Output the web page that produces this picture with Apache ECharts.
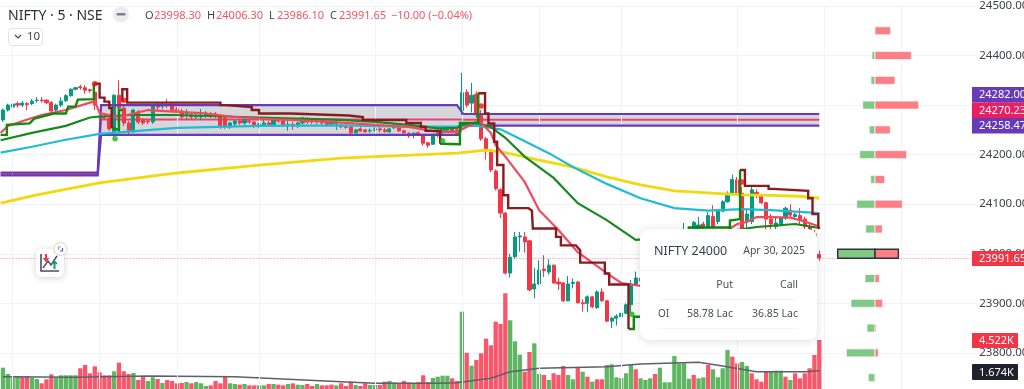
<!DOCTYPE html>
<html><head><meta charset="utf-8">
<style>html,body{margin:0;padding:0;background:#fff;overflow:hidden}#c{width:1024px;height:389px}</style>
<script src="https://cdn.jsdelivr.net/npm/echarts@6/dist/echarts.min.js"></script>
</head><body><div id="c"></div>
<script>
const FONT = '"Noto Sans", Roboto, sans-serif';
// OHLC as [open, close, low, high], one row per 5-minute candle
const candles = [
[24270,24290,24266,24293],[24290,24300,24287,24303],[24296,24302,24292,24310],[24303,24300,24295,24307],[24300,24304,24296,24308],
[24303,24301,24290,24306],[24303,24308,24300,24312],[24309,24310,24305,24316],[24310,24309,24305,24316],[24310,24305,24302,24312],
[24305,24288,24284,24308],[24290,24300,24288,24303],[24300,24308,24296,24316],[24309,24319,24306,24322],[24319,24332,24317,24334],
[24332,24335,24330,24337],[24337,24335,24331,24341],[24335,24330,24323,24340],[24331,24329,24325,24333],[24326,24300,24290,24338],
[24278,24274,24270,24282],[24276,24274,24270,24280],[24274,24252,24248,24278],[24245,24320,24236,24322],[24320,24294,24245,24350],
[24294,24264,24258,24298],[24264,24246,24238,24268],[24246,24290,24244,24292],[24286,24266,24262,24290],[24270,24264,24260,24274],
[24268,24266,24262,24272],[24266,24298,24262,24300],[24298,24296,24290,24304],[24298,24302,24292,24306],[24301,24299,24294,24312],
[24300,24290,24286,24304],[24292,24288,24284,24296],[24288,24276,24272,24292],[24283,24284,24272,24292],[24280,24276,24272,24284],
[24276,24278,24272,24282],[24276,24280,24270,24292],[24278,24284,24274,24288],[24282,24278,24274,24286],[24282,24278,24274,24286],
[24278,24256,24252,24282],[24274,24256,24252,24276],[24256,24264,24252,24266],[24262,24268,24258,24270],[24268,24264,24260,24272],
[24264,24270,24260,24272],[24268,24266,24262,24270],[24266,24258,24254,24268],[24258,24262,24254,24264],[24260,24264,24256,24275],
[24264,24260,24256,24268],[24260,24274,24256,24276],[24272,24268,24264,24274],[24268,24260,24256,24270],[24260,24261,24248,24268],
[24261,24258,24250,24266],[24258,24264,24254,24266],[24264,24274,24260,24276],[24272,24266,24262,24276],[24270,24266,24262,24272],
[24266,24268,24262,24272],[24270,24264,24260,24272],[24266,24260,24256,24268],[24262,24264,24256,24268],[24262,24263,24250,24270],
[24260,24256,24253,24262],[24258,24255,24252,24261],[24256,24244,24242,24258],[24244,24250,24243,24252],[24252,24248,24246,24256],
[24250,24246,24245,24252],[24248,24249,24244,24253],[24250,24252,24246,24256],[24252,24250,24245,24256],[24250,24247,24244,24254],
[24246,24252,24244,24254],[24254,24257,24252,24262],[24255,24248,24246,24258],[24248,24244,24242,24250],[24243,24238,24234,24245],
[24241,24243,24233,24246],[24244,24241,24238,24247],[24240,24223,24218,24242],[24224,24219,24214,24226],[24221,24241,24220,24242],
[24243,24248,24235,24254],[24246,24251,24240,24256],[24248,24251,24244,24255],[24253,24246,24244,24255],[24250,24243,24240,24252],
[24289,24325,24280,24365],[24326,24300,24295,24332],[24304,24320,24285,24345],[24322,24280,24274,24328],[24280,24232,24228,24290],
[24232,24208,24190,24236],[24209,24169,24165,24212],[24167,24131,24128,24170],[24129,24082,24072,24132],[24082,23961,23958,24084],
[23961,23993,23952,24000],[23994,24034,23990,24044],[24034,24036,24004,24044],[24034,24024,24002,24044],[24026,23927,23925,24028],
[23929,23939,23910,23971],[23939,23967,23937,23987],[23969,23966,23953,23997],[23963,23977,23958,23989],[23977,23941,23940,23978],
[23943,23939,23927,23952],[23941,23905,23903,23943],[23905,23939,23904,23955],[23940,23942,23930,23950],[23943,23901,23900,23945],
[23901,23899,23883,23908],[23900,23913,23882,23916],[23913,23893,23890,23915],[23891,23923,23889,23926],[23923,23905,23903,23930],
[23905,23864,23862,23907],[23864,23870,23850,23873],[23870,23874,23855,23878],[23873,23880,23862,23882],[23880,23897,23878,23900],
[23897,23939,23880,23947],[23939,23951,23935,23964],[23951,23945,23940,23958],[23945,23955,23942,23960],[23955,23965,23950,23970],
[23965,23975,23960,23980],[23975,23962,23958,23980],[23962,23972,23960,23976],[23972,23985,23970,23990],[23985,24005,23980,24010],
[24005,24020,24000,24025],[24020,24042,24015,24062],[24042,24030,24025,24048],[24051,24063,24045,24066],[24050,24058,24045,24074],
[24060,24052,24045,24065],[24053,24077,24045,24084],[24075,24053,24048,24098],[24065,24086,24060,24088],[24086,24105,24084,24108],
[24105,24122,24103,24126],[24122,24150,24118,24160],[24149,24122,24118,24155],[24122,24052,24045,24135],[24065,24080,24052,24088],
[24065,24129,24060,24135],[24124,24118,24112,24130],[24118,24103,24100,24121],[24103,24070,24037,24105],[24070,24060,24045,24080],
[24055,24062,24040,24075],[24061,24072,24055,24075],[24072,24092,24068,24095],[24088,24078,24072,24100],[24075,24079,24068,24082],
[24077,24068,24060,24092],[24070,24055,24048,24075],[24055,24040,24030,24062],[24040,23998,23990,24048],[23998.3,23991.65,23986.1,24006.3]
];
const volumes = [1966,1385,1080,1200,1135,1200,1043,923,526,895,1357,1108,1265,1265,1265,1265,1911,2215,1449,2095,1541,1265,1265,1634,2427,1634,1385,1477,831,1172,738,1080,923,554,831,738,526,554,646,526,646,526,277,338,738,526,1200,526,465,400,465,338,338,338,338,465,465,400,338,465,526,400,370,465,277,465,338,338,400,338,
526,277,674,370,277,526,370,370,370,674,738,600,526,738,600,526,630,1265,630,1015,1135,1228,1228,985,738,
7135,3350,2150,2677,3295,4643,4033,6212,6000,8833,6340,4400,3166,1600,3415,4218,1385,1292,831,1449,1292,2123,1292,895,1966,1600,1135,674,895,895,2215,2280,1080,1000,1449,2280,1818,
985,831,985,1385,1966,618,618,3046,2372,2372,951,1292,985,1080,2215,1818,1080,1911,3600,2981,2372,2492,2123,1449,895,674,1597,1597,1689,1689,1135,831,1449,985,1449,1911,3138,4522];
const volumeDir = ("ggggrrggrrrgggggrrrrrrrgrrrgrrggrgrrrrgrgggrrrrggrgrrggrgrrgrggrrgrrrg"+
  "rrrgrrggrrggrrrgrrrggggrr"+"grgrrrrrrrgggrrggrgrrrggrgrgrrgggggg"+"rgggrgggggggrggrggggrrggrrrrgggrgrrrrr").split("");
// Sparse line reads as [candle index, price]
const ma200 = [[-0.5,24102],[7,24119],[20,24143],[36,24163],[53,24179],[70,24193],[77,24196],[94,24203],[100,24209],[104,24204],[111,24189],[118,24175],[125,24155],[132,24139],[139,24127],[146,24123],[153,24119],[159,24118],[165,24116],[169,24112]];
const ma50 = [[-0.5,24204],[6,24216],[13,24230],[20,24242],[28,24248],[36,24254],[53,24258],[70,24259],[86,24256],[94,24257],[97,24260],[103,24251],[107,24232],[113,24203],[118,24175],[125,24141],[132,24112],[139,24092],[146,24087],[153,24090],[159,24088],[169,24082]];
const ma20 = [[-0.5,24229],[6,24244],[13,24258],[18,24275],[20,24277],[27,24280],[36,24280],[53,24275],[70,24270],[77,24266],[84,24260],[90,24253],[94,24254],[95,24260],[98,24264],[101,24256],[104,24234],[108,24196],[114,24153],[119,24102],[125,24068],[131,24028],[144,24036],[156,24054],[164,24060],[169,24052]];
const ma9 = [[-0.5,24244],[1,24258],[6,24274],[8,24280],[13,24290],[17,24302],[19,24308],[20,24284],[24,24276],[30,24290],[41,24284],[48,24276],[55,24272],[68,24266],[77,24260],[84,24256],[90,24246],[94,24246],[96,24256],[98,24266],[99,24264],[101,24244],[102,24219],[104,24196],[108,24145],[111,24088],[115,24048],[119,24003],[125,23961],[128,23941],[132,23935],[144,24012],[152,24060],[154,24064],[156,24074],[159,24074],[163,24073],[166,24065],[169,24055]];
// Trend-stop steps
const stopGreen = [
 [[-0.5,24240],[0.8,24240],[0.8,24260],[5.5,24263],[6.5,24273],[10.5,24283],[13,24283],[13.5,24297],[15,24297],[15.5,24311],[18.8,24312],[18.8,24343]],
 [[22.5,24254],[22.5,24250],[24,24250],[24,24290],[24.7,24290]],
 [[90.5,24222],[94.6,24221],[94.6,24264],[98.4,24264],[98.4,24324]],
 [[129.5,23848],[130.6,23848],[130.6,23873],[134.5,23873],[134.5,23930],[142,23930],[142,24053],[150.5,24053],[150.5,24067],[152.6,24070],[152.6,24169]]
];
const stopRed = [
 [[18.8,24343],[20,24343],[20,24315],[21,24315],[21,24307],[22,24307],[22,24294],[22.5,24294],[22.5,24254]],
 [[24.7,24307],[24.7,24332],[25.7,24332],[25.7,24305],[45,24305],[45,24300],[46,24300],[46,24296],[51.5,24296],[51.5,24290],[53,24290],[53,24283],[59.5,24283],[59.5,24279],[71.5,24279],[71.5,24276],[74.5,24276],[74.5,24270],[83.5,24270],[83.5,24264],[86.5,24264],[86.5,24256],[87.5,24256],[87.5,24248],[90.5,24248],[90.5,24222]],
 [[98.4,24324],[99.8,24324],[99.8,24283],[100.5,24283],[100.5,24263],[101.7,24263],[101.7,24226],[102.3,24226],[102.3,24179],[103.6,24179],[103.6,24118],[104.6,24118],[104.6,24092],[108.8,24092],[109.5,24087],[109.7,24087],[109.7,24051],[114.5,24051],[114.5,24034],[115.5,24034],[115.5,24017],[118.6,24017],[119.5,24007],[119.5,23982],[124.6,23982],[124.6,23960],[125.5,23960],[125.5,23938],[129.5,23938],[129.5,23848]],
 [[152.6,24169],[153.6,24169],[153.6,24137],[158.5,24137],[158.5,24131],[159.5,24131],[159.5,24127],[166.7,24127],[166.7,24112],[167.6,24112],[167.6,24080],[168.8,24080],[168.8,24055],[169,24050]]
];
const flipRed = [[19,24343],[25,24310],[99,24298],[153,24145]];
const flipGreen = [[23.2,24232],[91,24228],[130.2,23878]];
// Opening-range style band
const bandTop = [[-0.5,24164],[19.6,24164],[20.3,24300],[94,24300],[95.3,24282],[169,24282]];
const bandBottom = [[-0.5,24158],[19.6,24158],[20.3,24240],[94.5,24240],[95,24258.47],[169,24258.47]];
const bandMid = [[-0.5,24161],[19.6,24161],[20.3,24271],[94.5,24271],[95,24270.23],[169,24270.23]];
const volumeMA = [[0,1135],[15,1080],[30,1200],[48,1135],[70,674],[77,526],[90,526],[94,580],[101,988],[105,1597],[111,1910],[125,2058],[132,2307],[144,2464],[149,2123],[156,1597],[166,1597],[169,1674]];
// Option chain, in Lac
const strikes = [24450,24400,24350,24300,24250,24200,24150,24100,24050,24000,23950,23900,23850,23800,23750];
const putOI = [0.5,4.7,6.3,19.4,9,24.1,6.8,28.8,14.6,58.78,15.7,37.8,12.6,45.2,10.6];
const callOI = [24.7,57.2,31.5,68.8,24.1,49.9,15.3,43,11.5,36.85,6.8,12.1,2,5.2,1.1];
const selectedStrike = 24000;
const gridTicks = [2,20,36,53,77,95,111,128,152,170,186];
const lastPrice = 23991.65;

const BAND = 4.83, SLOTS = 202, LEFT = 0.6, W = SLOTS * BAND;
const cats = Array.from({length: SLOTS}, (_, i) => i);
const UP = '#089981', DOWN = '#f23645', GV = '#5eb562', RV = '#f9566b';
const lineS = (name, data, color, width, z, extra) => Object.assign({
  type: 'line', name, data, xAxisIndex: 1, yAxisIndex: 0, symbol: 'none', silent: true, z,
  lineStyle: {color, width, join: 'miter'}
}, extra || {});

const T = (x, y, text, size, color, align, weight) => ({type: 'text', x, y, z: 100, silent: true,
  style: {text, fontSize: size, fontFamily: FONT, fill: color, align: align || 'left', verticalAlign: 'middle', fontWeight: weight || 'normal'}});
const R = (x, y, w, h, fill, r, extra) => ({type: 'rect', z: 99, silent: true, shape: {x, y, width: w, height: h, r: r || 0}, style: Object.assign({fill}, extra || {})});
const L = (x1, y1, x2, y2, stroke) => ({type: 'line', z: 100, silent: true, shape: {x1, y1, x2, y2}, style: {stroke, lineWidth: 1}});
const P = (pts, stroke, w) => ({type: 'polyline', z: 101, silent: true, shape: {points: pts}, style: {stroke, lineWidth: w, fill: null}});

const graphics = [
  T(8, 16, 'NIFTY · 5 · NSE', 14, '#2a2e39'),
  {type: 'circle', z: 99, silent: true, shape: {cx: 121, cy: 14.5, r: 8}, style: {fill: '#ebecef'}},
  R(116.5, 13, 9, 2.6, '#7d808b', 1),
  T(145, 15.5, 'O', 11, '#434651'), T(154, 15.5, '23998.30', 11, '#f7525f'),
  T(207, 15.5, 'H', 11, '#434651'), T(216, 15.5, '24006.30', 11, '#f7525f'),
  T(269, 15.5, 'L', 11, '#434651'), T(277, 15.5, '23986.10', 11, '#f7525f'),
  T(330, 15.5, 'C', 11, '#434651'), T(339, 15.5, '23991.65', 11, '#f7525f'),
  T(391, 15.5, '−10.00 (−0.04%)', 11, '#f7525f'),
  R(8.5, 28.5, 34, 17, '#fff', 3, {stroke: '#e0e3eb', lineWidth: 1}),
  P([[15, 35], [18, 38], [21, 35]], '#434651', 1.2),
  T(27, 37, '10', 11.5, '#434651'),
  // drawing widget
  R(36, 249, 28, 28, '#fff', 6, {shadowBlur: 7, shadowColor: 'rgba(0,0,0,.18)', shadowOffsetY: 1}),
  P([[41, 254], [41, 271], [59, 271]], '#4a4e5a', 1.6),
  P([[43, 268], [48, 261], [51, 265], [57, 256]], '#4a4e5a', 1.4),
  P([[46, 254], [46, 260]], '#f23645', 2), P([[43.5, 258], [46, 261], [48.5, 258]], '#f23645', 1.6),
  P([[54.5, 262], [54.5, 269]], '#089981', 2), P([[52, 264], [54.5, 261.5], [57, 264]], '#089981', 1.6),
  {type: 'circle', z: 100, silent: true, shape: {cx: 60.5, cy: 249, r: 6.5}, style: {fill: '#fff', stroke: '#d1d4dc', lineWidth: 1}},
  P([[58.5, 250], [58.5, 247], [61, 247]], '#f08a5d', 1.2), P([[62.5, 248], [62.5, 251], [60, 251]], '#2a6fdb', 1.2),
  // option tooltip
  R(640, 229, 177, 111, '#fff', 9, {shadowBlur: 10, shadowColor: 'rgba(0,0,0,.14)', shadowOffsetY: 1}),
  T(654, 251, 'NIFTY 24000', 12.5, '#3a3e4a'), T(805, 251, 'Apr 30, 2025', 10.5, '#4a4e5a', 'right'),
  L(640, 270.5, 817, 270.5, '#f0f3fa'),
  T(733, 285, 'Put', 10.5, '#4a4e5a', 'right'), T(798, 285, 'Call', 10.5, '#4a4e5a', 'right'),
  L(658, 299.5, 798, 299.5, '#f0f3fa'),
  T(658, 314, 'OI', 10, '#4a4e5a'), T(733, 314, '58.78 Lac', 10.5, '#4a4e5a', 'right'), T(798, 314, '36.85 Lac', 10.5, '#4a4e5a', 'right'),
  L(658, 328.5, 798, 328.5, '#f0f3fa'),
  // axis tags
  R(972, 87, 52, 15.5, '#673ab7'), T(979, 95, '24282.00', 11, '#fff'),
  R(972, 102.5, 52, 15.5, '#e91e63'), T(979, 110.5, '24270.23', 11, '#fff'),
  R(972, 118, 52, 15.5, '#673ab7'), T(979, 126, '24258.47', 11, '#fff'),
  R(972, 251, 52, 15, '#f23645'), T(979, 259, '23991.65', 11, '#fff'),
  R(972, 333, 46, 15, '#f23645', 1), T(979, 341, '4.522K', 11, '#fff'),
  R(972, 364, 46, 16, '#1e222d', 1), T(979, 372.5, '1.674K', 11, '#fff')
];

const option = {
  animation: false,
  backgroundColor: '#fff',
  grid: [
    {left: LEFT, top: 6, width: W, height: 396.4, outerBoundsMode: 'none', containLabel: false},
    {left: LEFT, top: 0, width: W, height: 389, outerBoundsMode: 'none', containLabel: false}
  ],
  xAxis: [
    {type: 'category', gridIndex: 0, data: cats, show: false, boundaryGap: true},
    {type: 'value', gridIndex: 0, min: -0.5, max: SLOTS - 0.5, show: false, splitLine: {show: false}},
    {type: 'value', gridIndex: 0, min: -874.4 / 0.635, max: (W - 874.4) / 0.635, show: false, splitLine: {show: false}},
    {type: 'category', gridIndex: 1, data: cats, show: false, boundaryGap: true}
  ],
  yAxis: [
    {type: 'value', gridIndex: 0, position: 'right', min: 23700, max: 24500, interval: 100,
     axisLine: {show: false}, axisTick: {show: false},
     axisLabel: {margin: 3, color: '#3d414d', fontSize: 11.5, fontFamily: FONT, formatter: v => v.toFixed(2)},
     splitLine: {lineStyle: {color: '#f2f3f7', width: 1}}},
    {type: 'value', gridIndex: 1, min: 0, max: 35900, show: false, splitLine: {show: false}}
  ],
  series: [
    {type: 'line', name: 'grid', xAxisIndex: 1, yAxisIndex: 0, data: [[0, 24500]], symbol: 'none', silent: true, z: 0,
     lineStyle: {width: 0},
     markLine: {silent: true, symbol: 'none', animation: false, label: {show: false},
       lineStyle: {color: '#f2f3f7', width: 1, type: 'solid'},
       data: gridTicks.map(v => ({xAxis: v}))}},
    {type: 'custom', name: 'band', xAxisIndex: 1, yAxisIndex: 0, data: [[0, 24300]], silent: true, z: 1,
     clip: true,
     renderItem: (p, api) => ({type: 'polygon',
       shape: {points: bandTop.concat(bandBottom.slice().reverse()).map(q => api.coord(q))},
       style: {fill: 'rgba(120,123,134,0.3)'}})},
    {type: 'bar', name: 'Volume', xAxisIndex: 3, yAxisIndex: 1, barWidth: 4.3, z: 2, silent: true,
     data: volumes.map((v, i) => ({value: v, itemStyle: {color: volumeDir[i] === 'g' ? GV : RV}}))},
    {type: 'line', name: 'Volume MA', xAxisIndex: 3, yAxisIndex: 1, data: volumeMA, symbol: 'none', silent: true, z: 3,
     lineStyle: {color: '#5d606b', width: 1.5}},
    lineS('Band mid', bandMid, '#ec407a', 2, 3),
    {type: 'candlestick', name: 'NIFTY', xAxisIndex: 0, yAxisIndex: 0, barWidth: 3.6, z: 4, silent: true, data: candles,
     itemStyle: {color: UP, color0: DOWN, borderColor: UP, borderColor0: DOWN, borderWidth: 1},
     markLine: {silent: true, symbol: 'none', animation: false, label: {show: false},
       lineStyle: {color: 'rgba(242,54,69,.65)', width: 1, type: [1, 2]},
       data: [{yAxis: lastPrice}]}},
    lineS('Band top', bandTop, '#673ab7', 2.2, 5),
    lineS('Band bottom', bandBottom, '#673ab7', 2.2, 5),
    lineS('MA200', ma200, '#f2d90f', 2.8, 5),
    lineS('MA50', ma50, '#1fbcd6', 2.2, 5),
    lineS('MA20', ma20, '#178a1c', 2.2, 5),
    lineS('MA9', ma9, '#f5475f', 2.2, 6),
    ...stopGreen.map((d, i) => lineS('Stop up ' + i, d, '#0f8a0f', 2.4, 7)),
    ...stopRed.map((d, i) => lineS('Stop down ' + i, d, '#8b1a1f', 2.4, 7)),
    {type: 'scatter', name: 'flip down', xAxisIndex: 1, yAxisIndex: 0, data: flipRed, symbolSize: 5.5, z: 8, silent: true, itemStyle: {color: '#f01010'}},
    {type: 'scatter', name: 'flip up', xAxisIndex: 1, yAxisIndex: 0, data: flipGreen, symbolSize: 5.5, z: 8, silent: true, itemStyle: {color: '#0cb80c'}},
    {type: 'custom', name: 'Option OI', xAxisIndex: 2, yAxisIndex: 0, z: 9, silent: true, clip: false,
     data: strikes.map((s, i) => [s, putOI[i], callOI[i]]),
     encode: {y: 0},
     renderItem: (p, api) => {
       const s = api.value(0), put = api.value(1), call = api.value(2);
       const a = api.coord([-put, s]), o = api.coord([0, s]), b = api.coord([call, s]);
       const sel = s === selectedStrike, h = sel ? 9 : 8;
       const st = c => sel ? {fill: c, stroke: '#2f3136', lineWidth: 1.4} : {fill: c, stroke: 'rgba(255,255,255,.7)', lineWidth: 1};
       return {type: 'group', children: [
         {type: 'rect', shape: {x: a[0], y: o[1] - h / 2, width: o[0] - a[0], height: h}, style: st('#80c984')},
         {type: 'rect', shape: {x: o[0], y: o[1] - h / 2, width: b[0] - o[0], height: h}, style: st('#fc7f86')}
       ]};
     }}
  ],
  graphic: {elements: graphics}
};
const chart = echarts.init(document.getElementById('c'), null, {renderer: 'canvas'});
chart.setOption(option);
</script></body></html>
